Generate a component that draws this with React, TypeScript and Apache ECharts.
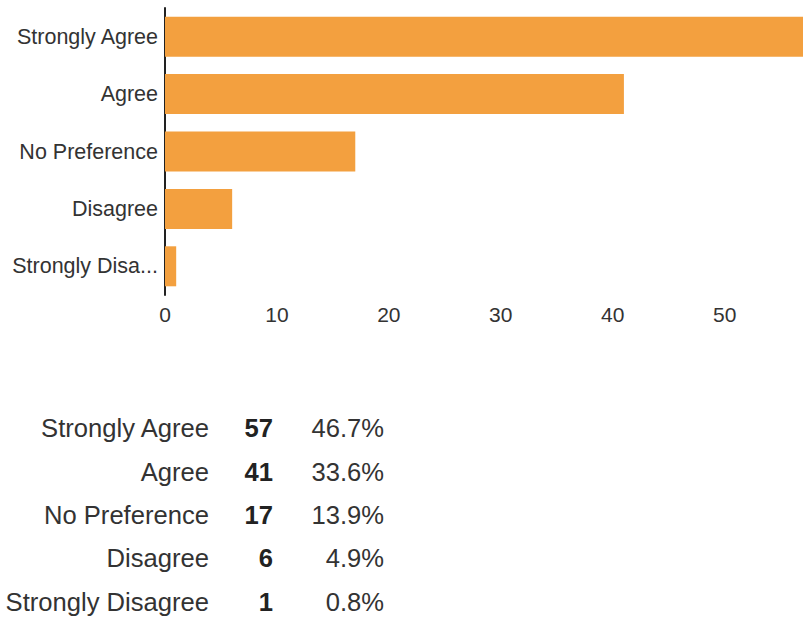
import React, { useEffect, useRef } from "react";
import * as echarts from "echarts";

const categories = ["Strongly Agree", "Agree", "No Preference", "Disagree", "Strongly Disagree"];
const counts = [57, 41, 17, 6, 1];
const percents = ["46.7%", "33.6%", "13.9%", "4.9%", "0.8%"];
const xTicks = [0, 10, 20, 30, 40, 50];

const BAR_COLOR = "#F3A03F";
const TEXT = "#333333";
const FONT = "Liberation Sans";

export default function App() {
  const ref = useRef<HTMLDivElement>(null);
  useEffect(() => {
    if (!ref.current) return;
    const chart = echarts.init(ref.current, null, { renderer: "svg" });
    const rowTop = 428.3;
    const rowStep = 43.3;
    const table: any[] = [];
    categories.forEach((c, i) => {
      const y = rowTop + i * rowStep;
      table.push({
        type: "text",
        x: 209,
        y,
        style: { text: c, fill: TEXT, fontSize: 25.6, fontFamily: FONT, align: "right", verticalAlign: "middle" },
      });
      table.push({
        type: "text",
        x: 273,
        y,
        style: { text: String(counts[i]), fill: "#222", fontSize: 25.6, fontWeight: "bold", fontFamily: FONT, align: "right", verticalAlign: "middle" },
      });
      table.push({
        type: "text",
        x: 384,
        y,
        style: { text: percents[i], fill: TEXT, fontSize: 25.6, fontFamily: FONT, align: "right", verticalAlign: "middle" },
      });
    });
    chart.setOption({
      animation: false,
      backgroundColor: "#ffffff",
      grid: { left: 165, top: 8, right: 3, bottom: 326, containLabel: false },
      xAxis: {
        type: "value",
        min: xTicks[0],
        max: counts[0],
        interval: xTicks[1] - xTicks[0],
        axisLine: { show: false },
        axisTick: { show: false },
        splitLine: { show: false },
        axisLabel: {
          showMaxLabel: false,
          color: TEXT,
          fontSize: 21,
          fontFamily: FONT,
          margin: 9,
        },
      },
      yAxis: {
        type: "category",
        data: categories,
        inverse: true,
        axisLine: { show: true, lineStyle: { color: "#222", width: 2 } },
        axisTick: { show: false },
        axisLabel: {
          color: TEXT,
          fontSize: 21.5,
          fontFamily: FONT,
          margin: 7,
          width: 156,
          overflow: "truncate",
          ellipsis: "...",
        },
      },
      series: [
        {
          type: "bar",
          data: counts,
          barWidth: 40,
          itemStyle: { color: BAR_COLOR },
          z: 1,
        },
      ],
      graphic: table,
    });
    return () => chart.dispose();
  }, []);
  return <div ref={ref} style={{ position: "fixed", left: 0, top: 0, width: 806, height: 621 }} />;
}
